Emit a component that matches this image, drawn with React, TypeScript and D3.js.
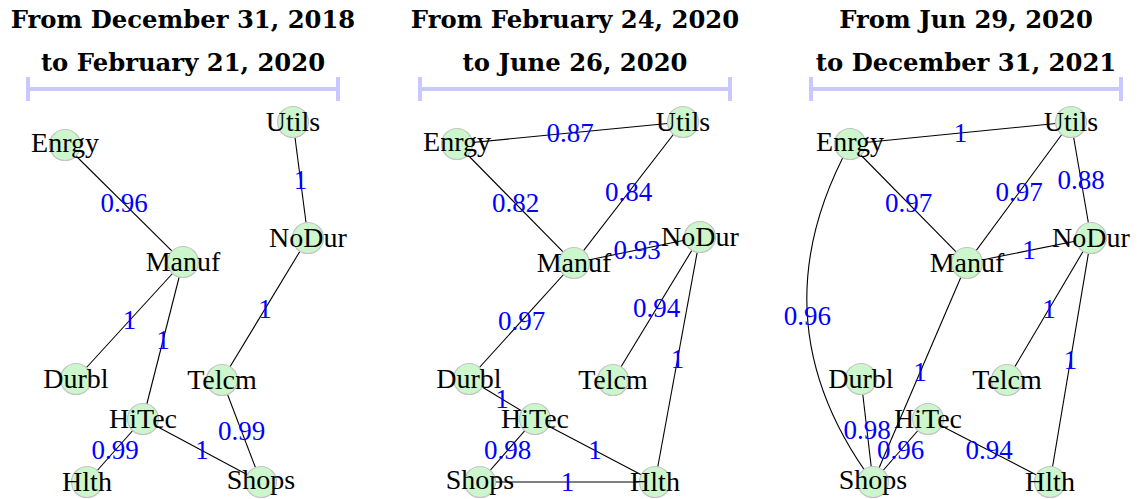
import React from "react";
import * as d3 from "d3";

// ---- data ----
const titleLine1 = ["From December 31, 2018", "From February 24, 2020", "From Jun 29, 2020"];
const titleLine2 = ["to February 21, 2020", "to June 26, 2020", "to December 31, 2021"];

// layout coordinates of each sector node (x: 0..310 along the period bar, y: 0..360 downward)
const layout1: Record<string, [number, number]> = {
  Enrgy: [37, 23], Utils: [265, 0], NoDur: [280, 116], Manuf: [155, 140], Durbl: [48, 257],
  Telcm: [194, 258], HiTec: [115, 297], Hlth: [59, 360], Shops: [233, 360],
};
const layout2: Record<string, [number, number]> = {
  Enrgy: [37, 22], Utils: [263, 0], NoDur: [280, 115], Manuf: [154, 141], Durbl: [49, 257],
  Telcm: [193, 258], HiTec: [115, 297], Shops: [60, 360], Hlth: [235, 360],
};
const layout3: Record<string, [number, number]> = {
  Enrgy: [39, 22], Utils: [260, 0], NoDur: [280, 116], Manuf: [156, 141], Durbl: [50, 257],
  Telcm: [196, 258], HiTec: [117, 297], Shops: [62, 360], Hlth: [239, 360],
};

// edges: [source, target, correlation]
const edges1: [string, string, number][] = [
  ["Enrgy", "Manuf", 0.96], ["Utils", "NoDur", 1], ["Manuf", "Durbl", 1], ["Manuf", "HiTec", 1],
  ["NoDur", "Telcm", 1], ["Telcm", "Shops", 0.99], ["HiTec", "Hlth", 0.99], ["HiTec", "Shops", 1],
];
const edges2: [string, string, number][] = [
  ["Enrgy", "Utils", 0.87], ["Enrgy", "Manuf", 0.82], ["Utils", "Manuf", 0.84], ["Manuf", "NoDur", 0.93],
  ["Manuf", "Durbl", 0.97], ["NoDur", "Telcm", 0.94], ["NoDur", "Hlth", 1], ["Durbl", "HiTec", 1],
  ["HiTec", "Shops", 0.98], ["HiTec", "Hlth", 1], ["Shops", "Hlth", 1],
];
const edges3: [string, string, number][] = [
  ["Enrgy", "Utils", 1], ["Enrgy", "Manuf", 0.97], ["Utils", "Manuf", 0.97], ["Utils", "NoDur", 0.88],
  ["Manuf", "NoDur", 1], ["NoDur", "Telcm", 1], ["NoDur", "Hlth", 1], ["Manuf", "Shops", 1],
  ["Enrgy", "Shops", 0.96], ["Durbl", "Shops", 0.98], ["HiTec", "Shops", 0.96], ["HiTec", "Hlth", 0.94],
];
const bentEdges3 = ["Enrgy-Shops"];

const layouts = [layout1, layout2, layout3];
const edgeSets = [edges1, edges2, edges3];
const bentSets = [[], [], bentEdges3];

// ---- style ----
const W = 1137;
const H = 499;
const panelX0 = [28, 420, 811];
const barLen = 310;
const NODE_R = 15.5;
const nodeFont = "Liberation Serif, Tinos, Times New Roman, Times, serif";
const titleFont = "DejaVu Serif, serif";

function Panel({ idx }: { idx: number }) {
  const x0 = panelX0[idx];
  const xs = d3.scaleLinear().domain([0, barLen]).range([x0, x0 + barLen]);
  const ys = d3.scaleLinear().domain([0, 360]).range([122, 482]);
  const lay = layouts[idx];
  const pos = (n: string): [number, number] => [xs(lay[n][0]), ys(lay[n][1])];
  const cx = x0 + barLen / 2;
  const bent = bentSets[idx] as string[];
  const fmt = (v: number) => String(v);

  const edgeGeom = edgeSets[idx].map(([s, t, w]) => {
    const [x1, y1] = pos(s);
    const [x2, y2] = pos(t);
    const isBent = bent.includes(`${s}-${t}`);
    if (!isBent) {
      const p = d3.path();
      p.moveTo(x1, y1);
      p.lineTo(x2, y2);
      return { d: p.toString(), lx: (x1 + x2) / 2, ly: (y1 + y2) / 2, w };
    }
    const dx = x2 - x1, dy = y2 - y1;
    const len = Math.hypot(dx, dy);
    const ux = dx / len, uy = dy / len;
    const off = 0.32 * len;
    const mx = (x1 + x2) / 2, my = (y1 + y2) / 2;
    const cxp = mx - uy * off;
    const cyp = my + ux * off;
    const p = d3.path();
    p.moveTo(x1, y1);
    p.quadraticCurveTo(cxp, cyp, x2, y2);
    const lx = 0.25 * x1 + 0.5 * cxp + 0.25 * x2;
    const ly = 0.25 * y1 + 0.5 * cyp + 0.25 * y2;
    return { d: p.toString(), lx, ly, w };
  });

  const names = Object.keys(lay);
  return (
    <g>
      <text x={cx} y={28} textAnchor="middle" style={{ fontFamily: titleFont, fontWeight: "bold", fontSize: "24.3px" }} fill="#000">
        {titleLine1[idx]}
      </text>
      <text x={cx} y={71} textAnchor="middle" style={{ fontFamily: titleFont, fontWeight: "bold", fontSize: "24.3px" }} fill="#000">
        {titleLine2[idx]}
      </text>
      <g stroke="#c9c9ff" strokeWidth={4} fill="none">
        <line x1={xs(0)} x2={xs(barLen)} y1={89} y2={89} />
        <line x1={xs(0)} x2={xs(0)} y1={77} y2={101} />
        <line x1={xs(barLen)} x2={xs(barLen)} y1={77} y2={101} />
      </g>
      <g stroke="#000" strokeWidth={1.1} fill="none">
        {edgeGeom.map((e, i) => (
          <path key={i} d={e.d} />
        ))}
      </g>
      <g>
        {names.map((n) => {
          const [x, y] = pos(n);
          return <circle key={n} cx={x} cy={y} r={NODE_R} fill="#ccf7cc" stroke="#c4c4c4" strokeWidth={1.2} />;
        })}
      </g>
      <g style={{ fontFamily: nodeFont, fontSize: "28px" }} fill="#000" textAnchor="middle">
        {names.map((n) => {
          const [x, y] = pos(n);
          const desc = /[gjpqy]/.test(n);
          return (
            <text key={n} x={x} y={y + (desc ? 6.6 : 9.4)}>
              {n}
            </text>
          );
        })}
      </g>
      <g style={{ fontFamily: nodeFont, fontSize: "27px" }} fill="#0000ff" textAnchor="middle">
        {edgeGeom.map((e, i) => (
          <text key={i} x={e.lx} y={e.ly + 8.7}>
            {fmt(e.w)}
          </text>
        ))}
      </g>
    </g>
  );
}

export default function App() {
  return (
    <svg
      width={W}
      height={H}
      viewBox={`0 0 ${W} ${H}`}
      style={{ position: "absolute", left: 0, top: 0, background: "#fff" }}
    >
      <rect x={0} y={0} width={W} height={H} fill="#fff" />
      {[0, 1, 2].map((i) => (
        <Panel key={i} idx={i} />
      ))}
    </svg>
  );
}
